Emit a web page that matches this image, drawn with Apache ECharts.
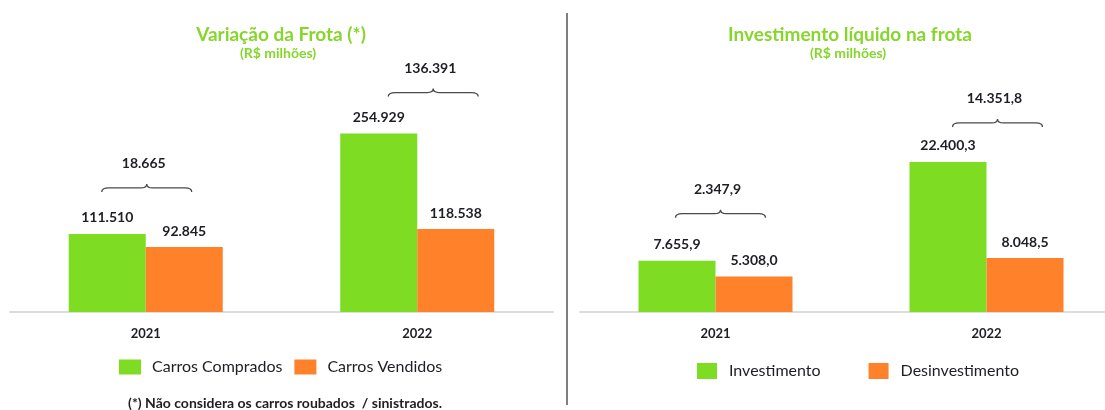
<!DOCTYPE html>
<html>
<head>
<meta charset="utf-8">
<script src="https://cdn.jsdelivr.net/npm/echarts@6/dist/echarts.min.js"></script>
<style>
  html, body { margin: 0; padding: 0; background: #fff; }
  #chart { width: 1105px; height: 410px; }
</style>
</head>
<body>
<div id="chart"></div>
<script>
// dados (R$ milhões)
const years = ['2021', '2022']
const carrosComprados = [111510, 254929]
const carrosVendidos = [92845, 118538]
const diffFrota = [18665, 136391]
const investimento = [7655.9, 22400.3]
const desinvestimento = [5308.0, 8048.5]
const diffInvest = [2347.9, 14351.8]

const GREEN = '#7edc22'
const ORANGE = '#ff812a'
const TEXT = '#1e1e24'
const FONT = 'Lato, "Open Sans", sans-serif'

// ajuste manual das chaves (px): [dx, altura acima da barra verde]
const braceNudge = [
  [[1, 46], [16, 41]],
  [[5, 47], [11, 39]]
]

// formato pt-BR: 111.510 / 7.655,9
function fmt(v, dec) {
  const parts = v.toFixed(dec).split('.')
  const int = parts[0].replace(/\B(?=(\d{3})+(?!\d))/g, '.')
  return dec ? int + ',' + parts[1] : int
}

function braceItem(dec, nudge) {
  return function (params, api) {
    const top = api.coord([api.value(0), api.value(1)])
    const n = nudge[params.dataIndex]
    const xc = top[0] + n[0]
    const y = top[1] - n[1]
    const half = 45
    const x0 = xc - half, x1 = xc + half
    const path = 'M' + x0 + ',' + (y + 4) +
      ' Q' + x0 + ',' + y + ' ' + (x0 + 7) + ',' + y +
      ' L' + (xc - 6) + ',' + y +
      ' Q' + xc + ',' + y + ' ' + xc + ',' + (y - 4) +
      ' Q' + xc + ',' + y + ' ' + (xc + 6) + ',' + y +
      ' L' + (x1 - 7) + ',' + y +
      ' Q' + x1 + ',' + y + ' ' + x1 + ',' + (y + 4)
    return {
      type: 'group',
      children: [
        {
          type: 'path',
          shape: { pathData: path },
          style: { fill: 'none', stroke: '#4a4a4a', lineWidth: 1.3 }
        },
        {
          type: 'text',
          x: xc - 3,
          y: y - 24,
          style: {
            text: fmt(api.value(2), dec),
            fill: TEXT,
            font: 'bold 14px ' + FONT,
            align: 'center',
            verticalAlign: 'middle'
          }
        }
      ]
    }
  }
}

function barLabel(dec) {
  return {
    show: true,
    position: 'top',
    distance: 9,
    color: TEXT,
    fontFamily: FONT,
    fontWeight: 'bold',
    fontSize: 14,
    formatter: p => fmt(p.value, dec)
  }
}

const xAxisBase = {
  type: 'category',
  data: years,
  axisTick: { show: false },
  axisLine: { lineStyle: { color: '#dcdcdc', width: 2 } },
  axisLabel: { color: TEXT, fontFamily: FONT, fontWeight: 'bold', fontSize: 13, margin: 15 }
}

const chart = echarts.init(document.getElementById('chart'))

chart.setOption({
  animation: false,
  textStyle: { fontFamily: FONT },
  grid: [
    { left: 10, top: 32, width: 543, height: 280, outerBoundsMode: 'none' },
    { left: 580, top: 32, width: 542, height: 280, outerBoundsMode: 'none' }
  ],
  xAxis: [
    Object.assign({ gridIndex: 0 }, xAxisBase),
    Object.assign({ gridIndex: 1 }, xAxisBase)
  ],
  yAxis: [
    { gridIndex: 0, type: 'value', min: 0, max: 400000, show: false, splitLine: { show: false } },
    { gridIndex: 1, type: 'value', min: 0, max: 41800, show: false, splitLine: { show: false } }
  ],
  legend: [
    {
      data: ['Carros Comprados', 'Carros Vendidos'],
      left: 114, top: 354,
      icon: 'rect', itemWidth: 22, itemHeight: 15, itemGap: 12,
      textStyle: { color: TEXT, fontSize: 16, fontFamily: FONT, padding: [0, 0, 0, 6] }
    },
    {
      data: ['Investimento', 'Desinvestimento'],
      left: 692, top: 358,
      icon: 'rect', itemWidth: 20, itemHeight: 16, itemGap: 48,
      textStyle: { color: TEXT, fontSize: 16, fontFamily: FONT, padding: [0, 0, 0, 7] }
    }
  ],
  graphic: [
    { type: 'line', shape: { x1: 567, y1: 13, x2: 567, y2: 405 }, style: { stroke: '#555', lineWidth: 1.5 } },
    { type: 'text', x: 281, y: 35, style: { text: 'Variação da Frota (*)', fill: '#86d62c', font: 'bold 19px ' + FONT, align: 'center', verticalAlign: 'middle' } },
    { type: 'text', x: 278, y: 53, style: { text: '(R$ milhões)', fill: '#86d62c', font: 'bold 14px ' + FONT, align: 'center', verticalAlign: 'middle' } },
    { type: 'text', x: 850, y: 35, style: { text: 'Investimento líquido na frota', fill: '#86d62c', font: 'bold 19px ' + FONT, align: 'center', verticalAlign: 'middle' } },
    { type: 'text', x: 848, y: 53, style: { text: '(R$ milhões)', fill: '#86d62c', font: 'bold 14px ' + FONT, align: 'center', verticalAlign: 'middle' } },
    { type: 'text', x: 285, y: 403, style: { text: '(*) Não considera os carros roubados  / sinistrados.', fill: TEXT, font: 'bold 14px ' + FONT, align: 'center', verticalAlign: 'middle' } }
  ],
  series: [
    {
      name: 'Carros Comprados', type: 'bar', xAxisIndex: 0, yAxisIndex: 0,
      data: carrosComprados, barWidth: 77, barGap: '0%',
      itemStyle: { color: GREEN }, label: barLabel(0)
    },
    {
      name: 'Carros Vendidos', type: 'bar', xAxisIndex: 0, yAxisIndex: 0,
      data: carrosVendidos, barWidth: 77, barGap: '0%',
      itemStyle: { color: ORANGE }, label: barLabel(0)
    },
    {
      name: 'Investimento', type: 'bar', xAxisIndex: 1, yAxisIndex: 1,
      data: investimento, barWidth: 77, barGap: '0%',
      itemStyle: { color: GREEN }, label: barLabel(1)
    },
    {
      name: 'Desinvestimento', type: 'bar', xAxisIndex: 1, yAxisIndex: 1,
      data: desinvestimento, barWidth: 77, barGap: '0%',
      itemStyle: { color: ORANGE }, label: barLabel(1)
    },
    {
      type: 'custom', xAxisIndex: 0, yAxisIndex: 0, silent: true,
      renderItem: braceItem(0, braceNudge[0]),
      encode: { x: 0, y: 1 },
      data: years.map((y, i) => [i, carrosComprados[i], diffFrota[i]])
    },
    {
      type: 'custom', xAxisIndex: 1, yAxisIndex: 1, silent: true,
      renderItem: braceItem(1, braceNudge[1]),
      encode: { x: 0, y: 1 },
      data: years.map((y, i) => [i, investimento[i], diffInvest[i]])
    }
  ]
})
</script>
</body>
</html>
